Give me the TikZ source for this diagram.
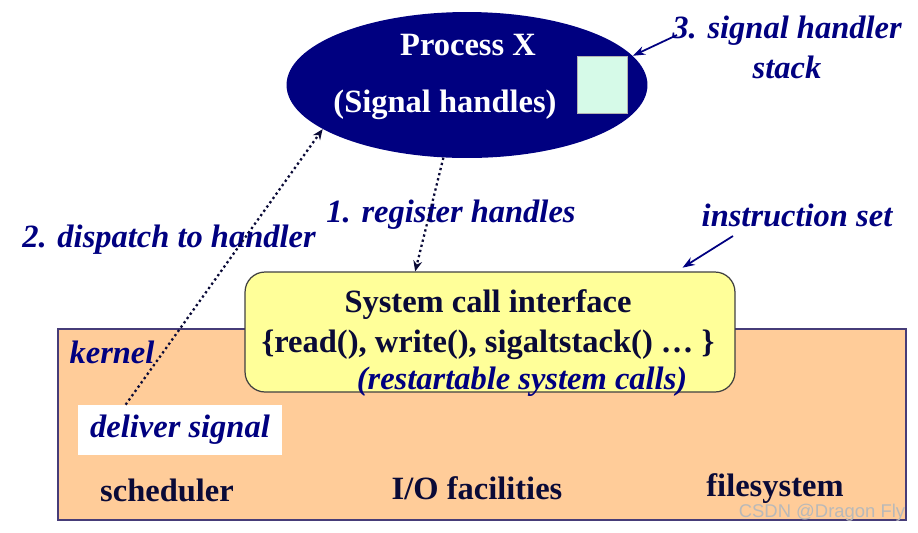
\documentclass[tikz,border=0pt]{standalone}
\usepackage{fontspec}
\setmainfont{Liberation Serif}
\newfontfamily\marksf{Liberation Sans}
\usetikzlibrary{arrows.meta, shapes.geometric, positioning}

\definecolor{navyblue}{RGB}{0,0,128}
\definecolor{peach}{RGB}{255,204,153}
\definecolor{paleyellow}{RGB}{255,255,153}
\definecolor{mint}{RGB}{214,250,232}
\definecolor{darkink}{RGB}{10,10,55}
\definecolor{slateline}{RGB}{70,60,120}

\tikzset{
  lbl/.style={font=\fontsize{18.5}{22.7}\selectfont\bfseries\itshape, text=navyblue, inner sep=0pt},
  plain/.style={font=\fontsize{18.5}{22.7}\selectfont\bfseries, text=darkink, inner sep=0pt},
  dotarrow/.style={-{Stealth[length=6pt,width=5pt]}, line width=1.3pt, dash pattern=on 1.3pt off 1.7pt, darkink},
  tagarrow/.style={-{Stealth[length=7pt,width=5pt]}, line width=1pt, navyblue},
}

\begin{document}
\begin{tikzpicture}[x=0.02cm, y=-0.02cm, >=Stealth]
  \useasboundingbox (0,0) rectangle (918,532);
  % Process
  \node[ellipse, fill=navyblue, inner sep=0pt, minimum width=7.22cm, minimum height=2.92cm] (proc) at (467,85) {};
  \node[plain, text=white] (pname) at (468,45) {Process X};
  \node[plain, text=white] (phand) at (445,105) {(Signal handles)};
  \node[draw=gray!60, fill=mint, inner sep=0pt, minimum width=1cm, minimum height=1.14cm] (stackbox) at (602,85) {};
  % Kernel
  \node[draw=slateline, line width=0.8pt, fill=peach, inner sep=0pt, minimum width=16.96cm, minimum height=3.82cm] (kernelbox) at (482,424.5) {};
  \node[lbl] (kernel) at (112,352) {kernel};
  \node[lbl, fill=white, minimum width=4.08cm, minimum height=1cm] (deliver) at (180,430) {deliver signal};
  \node[plain] (sched) at (167,490) {scheduler};
  \node[plain] (iofac) at (477,488) {I/O facilities};
  \node[plain] (fsys) at (775,489) {filesystem};
  % System call interface
  \node[draw=black!75, line width=0.7pt, fill=paleyellow, rounded corners=0.4cm, inner sep=0pt, minimum width=9.8cm, minimum height=2.4cm] (sci) at (490,332) {};
  \node[plain] (scititle) at (488,305) {System call interface};
  \node[plain] (scicalls) at (488,345) {\{read(), write(), sigaltstack() … \}};
  \node[lbl] (restart) at (522,382) {(restartable system calls)};
  % Labels
  \node[lbl, align=center] (hlabel) at (787,47) {3. signal handler\\stack};
  \node[lbl] (instr) at (797,215) {instruction set};
  \node[lbl] (register) at (451,215) {1. register handles};
  \node[lbl] (dispatch) at (169,240) {2. dispatch to handler};
  \coordinate (stktail) at (677,35);
  \coordinate (instrtail) at (733,236);
  % Arrows
  \draw[dotarrow] (proc.252) -- (sci.141);
  \draw[dotarrow] (deliver.155) -- (proc.197);
  \draw[tagarrow] (stktail) -- (proc.10);
  \draw[tagarrow, shorten >=4pt] (instrtail) -- (sci.18);
  % watermark
  \node[font=\marksf\fontsize{10.5}{12}\selectfont, text=gray!55, inner sep=0pt] (mark) at (822,513) {CSDN @Dragon Fly};
\end{tikzpicture}
\end{document}
